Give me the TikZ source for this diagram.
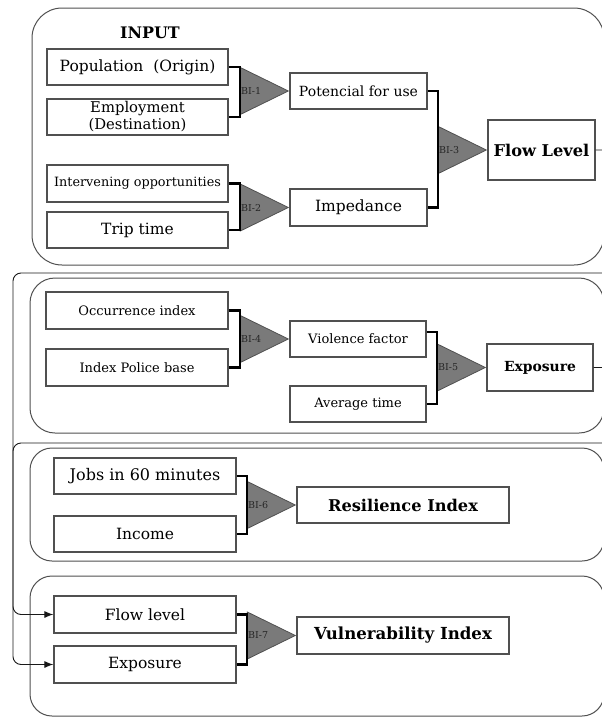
\documentclass[tikz,border=0pt]{standalone}
\usepackage{fontspec}
\setmainfont{DejaVu Serif}
\usetikzlibrary{positioning}
\usetikzlibrary{shapes.geometric}
\usetikzlibrary{arrows.meta}
\definecolor{edgegray}{HTML}{505050}
\definecolor{trifill}{HTML}{7A7A7A}

\begin{document}
\begin{tikzpicture}[x=1pt,y=-1pt,
  panel/.style={draw=edgegray, line width=1pt},
  inbox/.style={draw=edgegray, line width=1.3pt, fill=white, inner sep=0pt, align=center,
    minimum width=181pt, minimum height=36pt, font=\fontsize{15.5}{17}\selectfont},
  small/.style={font=\fontsize{13}{14}\selectfont},
  result/.style={inbox, font=\bfseries\fontsize{16.2}{18}\selectfont},
  gate/.style={isosceles triangle, isosceles triangle stretches, shape border rotate=0,
    draw=edgegray, fill=trifill, line width=0.8pt, minimum width=47pt, minimum height=48pt,
    inner sep=0pt, anchor=apex},
  gatelabel/.style={anchor=west, inner sep=1pt, text=black!85, font=\fontsize{9.5}{10}\selectfont},
  bracket/.style={draw=black, line width=2.2pt},
  feedback/.style={draw=black!90, line width=0.9pt, rounded corners=8pt, -{Latex[length=9pt,width=7pt]}}]
\useasboundingbox (0,0) rectangle (602,718);
%panels
\draw[panel, rounded corners=30pt] (32,8) rectangle (604,265);
\draw[panel, rounded corners=25pt] (30,278) rectangle (604,433);
\draw[panel, rounded corners=22pt] (30,448) rectangle (604,561);
\draw[panel, rounded corners=22pt] (30,576) rectangle (604,716);
%input block
\node[font=\bfseries\fontsize{15.9}{17}\selectfont] (input) at (150,33) {INPUT};
\node[inbox] (pop) at (137.5,67) {Population\ \ (Origin)};
\node[inbox, font=\fontsize{14.8}{17}\selectfont] (emp) at (137.5,117) {Employment\\(Destination)};
\node[inbox, font=\fontsize{12.8}{14}\selectfont, minimum height=37pt] (interv) at (137.5,183.5) {Intervening opportunities};
\node[inbox] (trip) at (137.5,230) {Trip time};
\node[inbox, minimum width=137pt, font=\fontsize{14}{16}\selectfont] (pot) at (358.5,91) {Potencial for use};
\node[inbox, minimum width=137pt, minimum height=37pt] (imped) at (358.5,207.5) {Impedance};
\node[result, minimum width=107pt, minimum height=60pt] (flow) at (541.5,150) {Flow Level};
%exposure block
\node[inbox, small, minimum width=182pt, minimum height=37pt] (occ) at (137,310.5) {Occurrence index};
\node[inbox, small, minimum width=182pt, minimum height=37pt] (police) at (137,367.5) {Index Police base};
\node[inbox, small, minimum width=136pt] (viol) at (358,339) {Violence factor};
\node[inbox, small, minimum width=136pt] (avg) at (358,404) {Average time};
\node[result, font=\bfseries\fontsize{13.9}{16}\selectfont, minimum width=106pt, minimum height=47pt] (expo) at (540,367.5) {Exposure};
%resilience block
\node[inbox, font=\fontsize{16}{18}\selectfont, minimum width=182pt] (jobs) at (145,476) {Jobs in 60 minutes};
\node[inbox, minimum width=182pt] (income) at (145,534) {Income};
\node[result, minimum width=212pt] (resil) at (403,505) {Resilience Index};
%vulnerability block
\node[inbox, minimum width=182pt, minimum height=37pt] (flowin) at (145,614.5) {Flow level};
\node[inbox, minimum width=182pt, minimum height=37pt] (expoin) at (145,664.5) {Exposure};
\node[result, font=\bfseries\fontsize{16.6}{18}\selectfont, minimum width=212pt, minimum height=37pt] (vuln) at (403,635.5) {Vulnerability Index};
%gates
\node[gate] (g1) at (pot.west) {};
\node[gate] (g2) at (imped.west) {};
\node[gate] (g3) at (flow.west) {};
\node[gate] (g4) at (viol.west) {};
\node[gate] (g5) at (expo.west) {};
\node[gate] (g6) at (resil.west) {};
\node[gate] (g7) at (vuln.west) {};
\node[gatelabel] at (g1.lower side) {BI-1};
\node[gatelabel] at (g2.lower side) {BI-2};
\node[gatelabel] at (g3.lower side) {BI-3};
\node[gatelabel] at (g4.lower side) {BI-4};
\node[gatelabel] at (g5.lower side) {BI-5};
\node[gatelabel] at (g6.lower side) {BI-6};
\node[gatelabel] at (g7.lower side) {BI-7};
%brackets
\draw[bracket] (pop.east) -| (g1.lower side) |- (emp.east);
\draw[bracket] (interv.east) -| (g2.lower side) |- (trip.east);
\draw[bracket] (pot.east) -| (g3.lower side) |- (imped.east);
\draw[bracket] (occ.east) -| (g4.lower side) |- (police.east);
\draw[bracket] ([yshift=7pt]viol.east) -| (g5.lower side) |- (avg.east);
\draw[bracket] (jobs.east) -| (g6.lower side) |- (income.east);
\draw[bracket] (flowin.east) -| (g7.lower side) |- (expoin.east);
%feedback lines
\draw[feedback] (flow.east) -- ++(20,0) |- (13,273) |- (flowin.west);
\draw[feedback] (expo.east) -- ++(20,0) |- (13,443) |- (expoin.west);
\end{tikzpicture}
\end{document}
